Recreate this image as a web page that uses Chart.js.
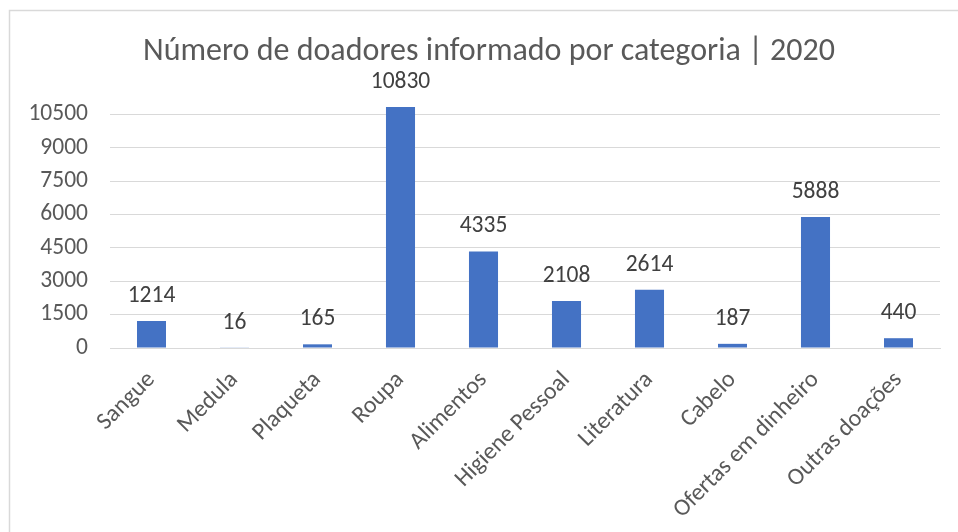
<!DOCTYPE html>
<html>
<head>
<meta charset="utf-8">
<script src="https://cdn.jsdelivr.net/npm/chart.js@4.4.1/dist/chart.umd.min.js"></script>
<style>
  html, body { margin: 0; padding: 0; background: #ffffff; }
  #wrap { position: relative; width: 958px; height: 532px; }
</style>
</head>
<body>
<div id="wrap"><canvas id="c" width="958" height="532"></canvas></div>
<script>
const titleText = 'Número de doadores informado por categoria | 2020';
const categories = ['Sangue', 'Medula', 'Plaqueta', 'Roupa', 'Alimentos', 'Higiene Pessoal', 'Literatura', 'Cabelo', 'Ofertas em dinheiro', 'Outras doações'];
const donors = [1214, 16, 165, 10830, 4335, 2108, 2614, 187, 5888, 440];
const yTicks = [0, 1500, 3000, 4500, 6000, 7500, 9000, 10500];

const FONT = "Carlito, Lato, 'Open Sans', sans-serif";

const framePlugin = {
  id: 'frame',
  beforeDraw(chart) {
    const ctx = chart.ctx;
    ctx.save();
    ctx.fillStyle = '#ffffff';
    ctx.fillRect(0, 0, chart.width, chart.height);
    ctx.strokeStyle = '#d9d9d9';
    ctx.lineWidth = 1.5;
    ctx.beginPath();
    ctx.moveTo(9.5, chart.height);
    ctx.lineTo(9.5, 10.5);
    ctx.lineTo(chart.width, 10.5);
    ctx.stroke();
    ctx.restore();
  },
  afterDraw(chart) {
    const ctx = chart.ctx;
    ctx.save();
    ctx.fillStyle = '#595959';
    ctx.font = "300 32px " + FONT;
    ctx.textAlign = 'center';
    ctx.textBaseline = 'middle';
    ctx.fillText(titleText, 489, 52);
    // data labels
    const meta = chart.getDatasetMeta(0);
    ctx.fillStyle = '#404040';
    ctx.font = "23.5px " + FONT;
    meta.data.forEach((bar, i) => {
      ctx.fillText(String(donors[i]), bar.x, bar.y - 25);
    });
    ctx.restore();
  }
};

new Chart(document.getElementById('c'), {
  type: 'bar',
  data: {
    labels: categories,
    datasets: [{
      data: donors,
      backgroundColor: '#4472c4',
      borderWidth: 0,
      barPercentage: 0.35,
      categoryPercentage: 1.0
    }]
  },
  options: {
    responsive: false,
    animation: false,
    layout: { padding: { top: 107, left: 0, right: 18, bottom: 0 } },
    plugins: {
      legend: { display: false },
      title: { display: false },
      tooltip: { enabled: false }
    },
    scales: {
      x: {
        grid: { display: false, drawTicks: false },
        border: { display: true, color: '#d9d9d9', width: 1 },
        ticks: {
          color: '#595959',
          font: { family: FONT, size: 24 },
          minRotation: 45,
          maxRotation: 45,
          padding: 18,
          autoSkip: false
        },
        afterFit(scale) { scale.height = 184; }
      },
      y: {
        min: 0,
        max: 10830,
        grid: { color: '#d9d9d9', lineWidth: 1, drawTicks: false },
        border: { display: false },
        ticks: {
          color: '#595959',
          font: { family: FONT, size: 23.5 },
          padding: 22,
          callback: (v) => String(v)
        },
        afterBuildTicks(scale) { scale.ticks = yTicks.map(v => ({ value: v })); },
        afterFit(scale) { scale.width = 110; }
      }
    }
  },
  plugins: [framePlugin]
});
</script>
</body>
</html>
